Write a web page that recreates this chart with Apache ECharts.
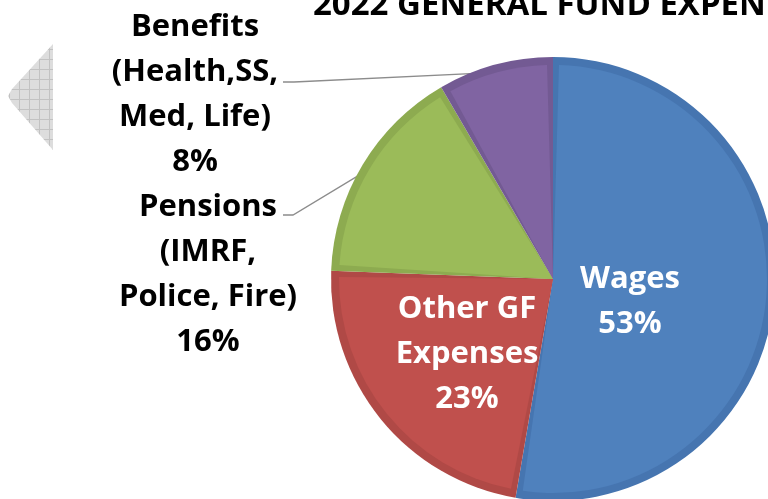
<!DOCTYPE html>
<html>
<head>
<meta charset="utf-8">
<script src="https://cdn.jsdelivr.net/npm/echarts@6/dist/echarts.min.js"></script>
<style>
  html, body { margin: 0; padding: 0; background: #fff; }
  #chart { width: 768px; height: 499px; }
</style>
</head>
<body>
<div id="chart"></div>
<script>
// slices, clockwise from 12 o'clock
const categories = ['Wages', 'Other GF\nExpenses', 'Pensions\n(IMRF,\nPolice, Fire)', 'Benefits\n(Health,SS,\nMed, Life)']
const shares = [52.7, 22.9, 16.0, 8.4]
const fillColors = ['#4f81bd', '#c0504d', '#9bbb59', '#8064a2']
const edgeColors = ['#4675b0', '#b04946', '#8dab50', '#735a93']

// where each label sits and where its leader line bends
const labelPos = [
  { x: 630, y: 302, color: '#fff' },
  { x: 467, y: 354, color: '#fff' },
  { x: 208, y: 275, color: '#000', bend: [[293, 215], [283, 215]] },
  { x: 195, y: 95, color: '#000', bend: [[294, 82], [283, 82]] }
]

const chart = echarts.init(document.getElementById('chart'))

// grid pattern for the grey arrow at the left
const pat = document.createElement('canvas')
pat.width = 10
pat.height = 10
const pctx = pat.getContext('2d')
pctx.fillStyle = '#dddddd'
pctx.fillRect(0, 0, 10, 10)
pctx.strokeStyle = '#c2c2c2'
pctx.lineWidth = 1
pctx.beginPath()
pctx.moveTo(9.5, 0); pctx.lineTo(9.5, 10)
pctx.moveTo(0, 9.5); pctx.lineTo(10, 9.5)
pctx.stroke()

const data = categories.map((name, i) => ({
  name: name,
  value: shares[i],
  itemStyle: { color: fillColors[i] },
  label: { color: labelPos[i].color, position: i < 2 ? 'inside' : 'outside' },
  labelLine: { show: i >= 2 }
}))

const option = {
  animation: false,
  title: {
    text: '2022 GENERAL FUND EXPENDITURES',
    left: 308,
    top: -16,
    textStyle: { fontFamily: 'Open Sans', fontWeight: 'bold', fontSize: 33, color: '#000' }
  },
  graphic: [{
    type: 'polygon',
    shape: {
      points: [[53, 44], [12, 89], [8, 96], [12, 103], [53, 150]]
    },
    style: { fill: { image: pat, repeat: 'repeat' } }
  }],
  series: [
    {
      // darker rim underneath
      type: 'pie',
      center: [553, 279],
      radius: [0, 222],
      startAngle: 90,
      silent: true,
      label: { show: false },
      labelLine: { show: false },
      data: shares.map((v, i) => ({ value: v, itemStyle: { color: edgeColors[i] } }))
    },
    {
      type: 'pie',
      center: [553, 279],
      radius: [0, 214],
      startAngle: 90,
      padAngle: 3.2,
      label: {
        show: true,
        fontFamily: 'Open Sans',
        fontWeight: 'bold',
        fontSize: 31,
        lineHeight: 45,
        formatter: (p) => p.name + '\n' + Math.round(p.value) + '%'
      },
      labelLine: {
        lineStyle: { color: '#8c8c8c', width: 1.3 }
      },
      labelLayout: (p) => {
        const lp = labelPos[p.dataIndex]
        const res = { x: lp.x, y: lp.y, align: 'center', verticalAlign: 'middle' }
        if (lp.bend && p.labelLinePoints) {
          res.labelLinePoints = [p.labelLinePoints[0], lp.bend[0], lp.bend[1]]
        }
        return res
      },
      data: data
    }
  ]
}
chart.setOption(option)
</script>
</body>
</html>
